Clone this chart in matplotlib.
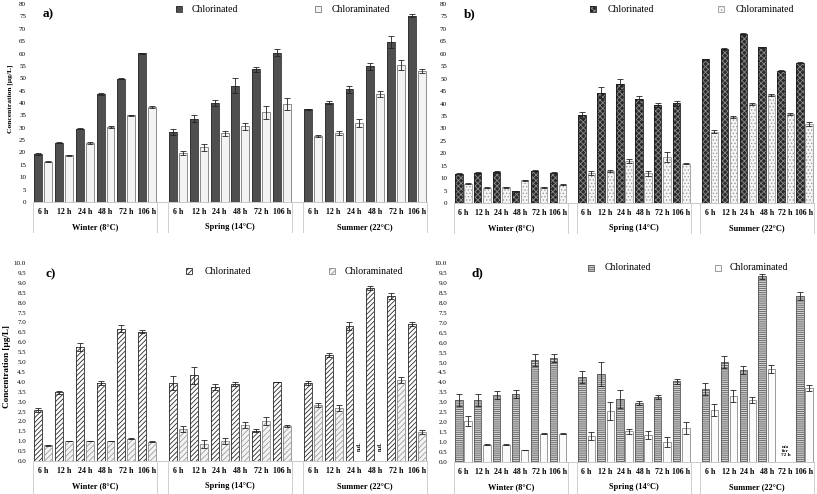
import matplotlib.pyplot as plt
import numpy as np
from matplotlib.patches import Rectangle
import matplotlib.transforms as mtransforms

plt.rcParams['font.family'] = ['Liberation Serif', 'DejaVu Serif']
plt.rcParams['hatch.linewidth'] = 0.6

nan = np.nan
hours = ['6 h', '12 h', '24 h', '48 h', '72 h', '106 h']
seasons = ['Winter (8°C)', 'Spring (14°C)', 'Summer (22°C)']

# a)
a_cl = [19.4, 24.0, 29.6, 43.7, 49.8, 60.0, 28.2, 33.6, 40.0, 47.0, 53.6, 60.4, 37.4, 40.2, 45.5, 54.8, 64.6, 75.3]
a_cl_err = [0.3, 0.3, 0.3, 0.3, 0.3, 0.4, 1.2, 1.4, 1.3, 3.0, 1.0, 1.5, 0.3, 0.5, 1.5, 1.5, 2.5, 0.6]
a_ca = [16.3, 18.8, 23.8, 30.4, 35.0, 38.4, 19.8, 22.1, 27.7, 30.6, 36.2, 39.7, 26.6, 27.7, 31.9, 43.7, 55.2, 52.8]
a_ca_err = [0.2, 0.2, 0.3, 0.3, 0.2, 0.3, 1.0, 1.3, 1.0, 1.5, 2.5, 2.5, 0.4, 0.8, 1.5, 1.2, 2.0, 0.8]
# b)
b_cl = [11.7, 12.1, 12.5, 4.8, 13.0, 12.2, 35.4, 44.3, 47.8, 41.7, 39.4, 40.1, 57.7, 61.9, 68.0, 62.6, 53.2, 56.4]
b_cl_err = [0.2, 0.3, 0.4, 0.2, 0.2, 0.3, 1.3, 2.2, 2.0, 1.4, 1.0, 1.0, 0.3, 0.4, 0.4, 0.3, 0.3, 0.3]
b_ca = [7.7, 6.2, 6.4, 9.1, 6.3, 7.4, 12.1, 12.8, 16.8, 11.9, 18.5, 15.8, 28.7, 34.5, 39.6, 43.4, 35.7, 31.7]
b_ca_err = [0.2, 0.2, 0.2, 0.2, 0.2, 0.2, 0.9, 0.3, 0.9, 1.0, 2.0, 0.3, 0.6, 0.5, 0.4, 0.4, 0.3, 0.8]
# c)
c_cl = [2.58, 3.46, 5.77, 3.93, 6.69, 6.54, 3.93, 4.32, 3.76, 3.91, 1.53, 4.0, 3.95, 5.33, 6.81, 8.72, 8.33, 6.93]
c_cl_err = [0.12, 0.1, 0.2, 0.1, 0.2, 0.1, 0.35, 0.45, 0.15, 0.1, 0.08, 0.0, 0.1, 0.1, 0.2, 0.1, 0.15, 0.1]
c_ca = [0.79, 1.01, 1.01, 1.0, 1.13, 0.98, 1.62, 0.84, 1.0, 1.82, 2.02, 1.77, 2.83, 2.68, nan, nan, 4.1, 1.48]
c_ca_err = [0.01, 0.01, 0.01, 0.01, 0.01, 0.01, 0.15, 0.2, 0.15, 0.15, 0.2, 0.05, 0.1, 0.15, nan, nan, 0.15, 0.1]
# d)
d_cl = [3.1, 3.1, 3.36, 3.4, 5.13, 5.23, 4.26, 4.41, 3.15, 2.97, 3.27, 4.06, 3.69, 5.02, 4.61, 9.33, nan, 8.34]
d_cl_err = [0.3, 0.3, 0.2, 0.2, 0.3, 0.2, 0.3, 0.6, 0.45, 0.1, 0.08, 0.12, 0.3, 0.3, 0.2, 0.12, nan, 0.2]
d_ca = [2.06, 0.86, 0.86, 0.59, 1.43, 1.43, 1.29, 2.58, 1.54, 1.34, 1.0, 1.73, 2.6, 3.34, 3.1, 4.66, nan, 3.74]
d_ca_err = [0.25, 0.03, 0.02, 0.01, 0.02, 0.03, 0.2, 0.45, 0.12, 0.2, 0.25, 0.3, 0.3, 0.3, 0.15, 0.2, nan, 0.15]

W, H = 817, 494
fig = plt.figure(figsize=(W / 100, H / 100), dpi=100)

# category positions: 6 per season, half-category blank between seasons
x = np.array([g * 6.5 + i for g in range(3) for i in range(6)], dtype=float)
seps = [-0.5, 5.5, 6.0, 12.0, 12.5, 18.5]
bw = 0.38
off = 0.24

styles = {
    'a': ({'face': '#4f4f4f', 'hatch': None, 'hc': '#4f4f4f', 'edge': '#2e2e2e'},
          {'face': '#f3f3f3', 'hatch': None, 'hc': '#f3f3f3', 'edge': '#7a7a7a'}),
    'b': ({'face': '#2a2a2a', 'hatch': 'xxxxxx', 'hc': '#8a8a8a', 'edge': '#1a1a1a'},
          {'face': '#f6f6f6', 'hatch': '.....', 'hc': '#9a9a9a', 'edge': '#9a9a9a'}),
    'c': ({'face': '#ffffff', 'hatch': '///////', 'hc': '#2a2a2a', 'edge': '#2a2a2a'},
          {'face': '#f4f4f4', 'hatch': '//////', 'hc': '#9c9c9c', 'edge': '#8c8c8c'}),
    'd': ({'face': '#d0d0d0', 'hatch': '--------', 'hc': '#606060', 'edge': '#555555'},
          {'face': '#fbfbfb', 'hatch': None, 'hc': '#fbfbfb', 'edge': '#8a8a8a'}),
}


def px_rect(left, right, top, bottom):
    return [left / W, 1 - bottom / H, (right - left) / W, (bottom - top) / H]


def draw_bars(ax, xs, h, e, st):
    ax.bar(xs, h, bw, color=st['face'], edgecolor=st['hc'], hatch=st['hatch'], linewidth=0)
    ax.bar(xs, h, bw, fill=False, edgecolor=st['edge'], linewidth=0.6)
    ax.errorbar(xs, h, yerr=e, fmt='none', ecolor='#222222', elinewidth=0.6, capsize=2, capthick=0.6)


def panel(key, rect, ymax, ystep, fmt, cl, cl_e, ca, ca_e, line_len):
    ax = fig.add_axes(rect)
    st_cl, st_ca = styles[key]
    draw_bars(ax, x - off, cl, cl_e, st_cl)
    draw_bars(ax, x + off, ca, ca_e, st_ca)
    ax.set_xlim(-0.5, 18.5)
    ax.set_ylim(0, ymax)
    ticks = np.arange(0, ymax + ystep / 2, ystep)
    ax.set_yticks(ticks)
    ax.set_yticklabels([fmt % t for t in ticks], fontsize=5)
    ax.set_xticks(x)
    ax.set_xticklabels(hours * 3, fontsize=5.7, fontweight='bold')
    ax.tick_params(axis='both', length=0)
    ax.tick_params(axis='x', pad=4)
    ax.tick_params(axis='y', pad=5)
    for s in ['left', 'right', 'top']:
        ax.spines[s].set_visible(False)
    ax.spines['bottom'].set_color('#c8c8c8')
    ax.spines['bottom'].set_linewidth(0.7)
    trans = mtransforms.blended_transform_factory(ax.transData, ax.transAxes)
    for s in seps:
        ax.plot([s, s], [0, -line_len], color='#cfcfcf', lw=0.7, transform=trans, clip_on=False)
    for g, name in enumerate(seasons):
        ax.text(g * 6.5 + 2.5, -0.127, name, transform=trans, ha='center', va='center',
                fontsize=6, fontweight='bold')
    return ax


ax_a = panel('a', px_rect(33, 427, 4, 202), 80, 5, '%d', a_cl, a_cl_err, a_ca, a_ca_err, 0.152)
ax_b = panel('b', px_rect(454, 814, 4, 203), 80, 5, '%d', b_cl, b_cl_err, b_ca, b_ca_err, 0.152)
ax_c = panel('c', px_rect(33, 427, 263, 461), 10, 0.5, '%.1f', c_cl, c_cl_err, c_ca, c_ca_err, 0.17)
ax_d = panel('d', px_rect(454, 814, 263, 462), 10, 0.5, '%.1f', d_cl, d_cl_err, d_ca, d_ca_err, 0.17)

# not detected / not available notes
for i in [14, 15]:
    ax_c.text(x[i] + off, 0.75, 'n.d.', rotation=90, ha='center', va='center',
              fontsize=4.2, fontweight='bold')
ax_d.text(x[16], 0.55, 'n/a\nfor\n72 h', ha='center', va='center', fontsize=3.8,
          fontweight='bold', linespacing=1.1)

# y labels
fig.text(0.012, 0.80, 'Concentration [µg/L]', rotation=90, ha='center', va='center',
         fontsize=5.4, fontweight='bold')
fig.text(0.009, 0.257, 'Concentration [µg/L]', rotation=90, ha='center', va='center',
         fontsize=6.6, fontweight='bold')

# panel letters
for lx, ly, t in [(43, 14, 'a)'), (464, 14, 'b)'), (45, 274, 'c)'), (472, 273, 'd)')]:
    fig.text(lx / W, 1 - ly / H, t, ha='left', va='center', fontsize=9.5, fontweight='bold')

# legends
legs = [('a', 179, 192, 318, 332, 9.5), ('b', 593, 608, 721, 736, 9.5),
        ('c', 189, 205, 332, 345, 271), ('d', 591, 605, 718, 730, 268)]
for key, m1, t1, m2, t2, ly in legs:
    for (mx, tx, st, lab) in [(m1, t1, styles[key][0], 'Chlorinated'),
                              (m2, t2, styles[key][1], 'Chloraminated')]:
        s = 6
        fig.add_artist(Rectangle(((mx - s / 2) / W, 1 - (ly + s / 2) / H), s / W, s / H,
                                 transform=fig.transFigure, facecolor=st['face'],
                                 edgecolor=st['hc'], hatch=st['hatch'], linewidth=0))
        fig.add_artist(Rectangle(((mx - s / 2) / W, 1 - (ly + s / 2) / H), s / W, s / H,
                                 transform=fig.transFigure, fill=False,
                                 edgecolor=st['edge'], linewidth=0.6))
        fig.text(tx / W, 1 - ly / H, lab, ha='left', va='center', fontsize=7)

fig.savefig('out.png', dpi=100)
